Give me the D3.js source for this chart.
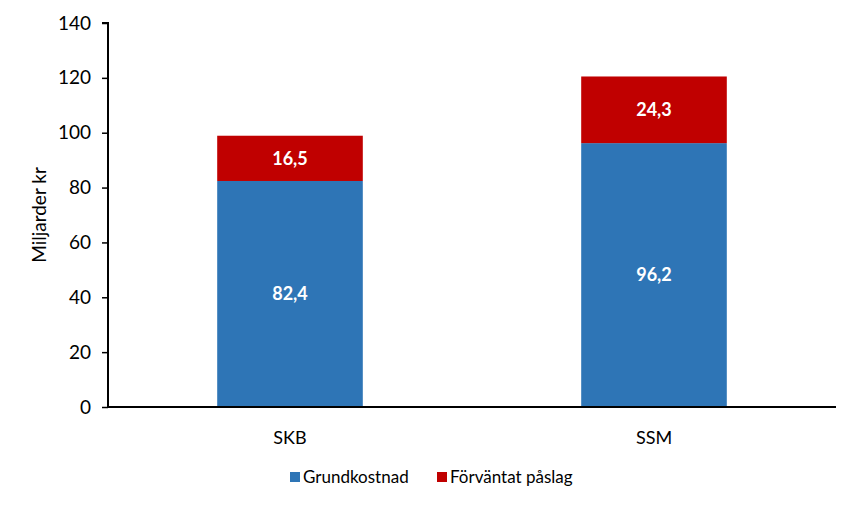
<!DOCTYPE html>
<html><head><meta charset="utf-8">
<script src="https://cdn.jsdelivr.net/npm/d3@7"></script>
<style>body{margin:0;background:#fff}svg{display:block}text{font-family:Lato,"Open Sans",sans-serif}</style>
</head><body><svg id="c" width="859" height="507"></svg>
<script>
const categories = ["SKB", "SSM"];
const seriesNames = ["Grundkostnad", "Förväntat påslag"];
const grundkostnad = [82.4, 96.2];
const paslag = [16.5, 24.3];
const yTicks = [0, 20, 40, 60, 80, 100, 120, 140];
const colors = ["#2E75B6", "#C00000"];

const svg = d3.select("#c");
const m = {left: 108, right: 836, top: 23, bottom: 407};
const x = d3.scaleBand().domain(categories).range([m.left, m.right]).paddingInner(0.6).paddingOuter(0.3);
const y = d3.scaleLinear().domain([0, 140]).range([m.bottom, m.top]);

const rows = categories.map((c, i) => ({cat: c, g: grundkostnad[i], p: paslag[i]}));
const stack = d3.stack().keys(["g", "p"])(rows);

stack.forEach((layer, li) => {
  svg.append("g").selectAll("rect").data(layer).join("rect")
    .attr("x", d => x(d.data.cat)).attr("width", x.bandwidth())
    .attr("y", d => y(d[1])).attr("height", d => y(d[0]) - y(d[1]))
    .attr("fill", colors[li]);
  svg.append("g").selectAll("text").data(layer).join("text")
    .attr("x", d => x(d.data.cat) + x.bandwidth() / 2)
    .attr("y", d => (y(d[0]) + y(d[1])) / 2)
    .attr("dy", "0.35em").attr("text-anchor", "middle")
    .attr("fill", "#fff").attr("font-weight", "bold").attr("font-size", 18)
    .text(d => d3.format(".1f")(d[1] - d[0]).replace(".", ","));
});

const ya = svg.append("g").attr("transform", `translate(${m.left},0)`)
  .call(d3.axisLeft(y).tickValues(yTicks).tickSize(6).tickPadding(11));
ya.select(".domain").attr("stroke", "#000").attr("stroke-width", 2).attr("d", `M-6,${m.top}H0V${m.bottom}`);
ya.selectAll(".tick line").attr("stroke", "#000").attr("stroke-width", 1.5);
ya.selectAll(".tick text").attr("font-size", 19).attr("fill", "#000").attr("font-family", "Lato,'Open Sans',sans-serif");

const xa = svg.append("g").attr("transform", `translate(0,${m.bottom})`)
  .call(d3.axisBottom(x).tickSize(0).tickPadding(24));
xa.select(".domain").attr("stroke", "#000").attr("stroke-width", 2).attr("d", `M${m.left},0H${m.right}`);
xa.selectAll(".tick text").attr("font-size", 18).attr("fill", "#000").attr("font-family", "Lato,'Open Sans',sans-serif");

svg.append("text").attr("transform", "translate(46,215) rotate(-90)")
  .attr("text-anchor", "middle").attr("font-size", 19).attr("fill", "#000").text("Miljarder kr");

const legX = [290, 437];
const lg = svg.append("g").selectAll("g").data(seriesNames).join("g")
  .attr("transform", (d, i) => `translate(${legX[i]},477)`);
lg.append("rect").attr("x", 0).attr("y", -5).attr("width", 10).attr("height", 10).attr("fill", (d, i) => colors[i]);
lg.append("text").attr("x", 13).attr("dy", "0.35em").attr("font-size", 17).attr("fill", "#000").text(d => d);
</script></body></html>
